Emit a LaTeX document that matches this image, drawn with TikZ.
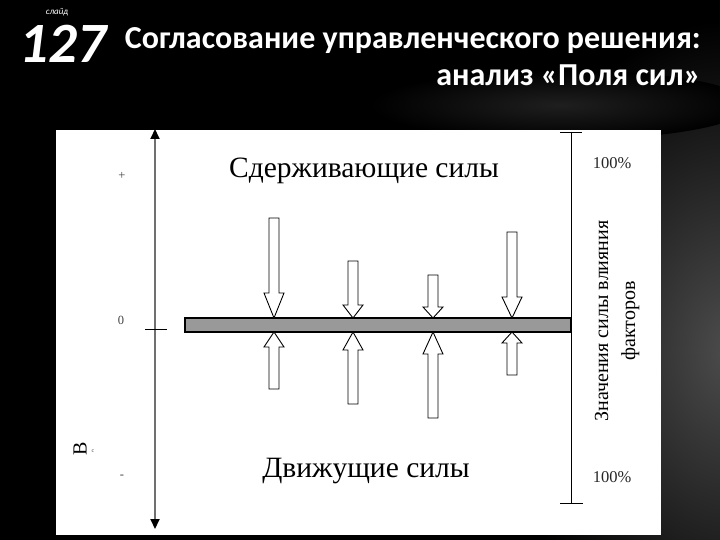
\documentclass[tikz,border=0pt]{standalone}
\usepackage{fontspec}
\setmainfont{Liberation Serif}
\newfontfamily\calfont{Carlito}
\usetikzlibrary{arrows.meta}
\definecolor{bargray}{HTML}{999999}
\definecolor{axisgray}{HTML}{707070}
\tikzset{
  blk/.style={draw=black, fill=white, line width=0.9pt, line join=miter},
  axisline/.style={draw=axisgray, line width=2pt},
  thinblack/.style={draw=black, line width=0.9pt},
  bigtxt/.style={font=\fontsize{29.5}{30}\selectfont, text=black},
  smalltxt/.style={font=\fontsize{12.5}{12.5}\selectfont, text=black!75},
  pcttxt/.style={font=\fontsize{16.5}{16.5}\selectfont, text=black!85},
  titletxt/.style={font=\calfont\bfseries\fontsize{32}{32}\selectfont, text=white, inner sep=0pt}
}
\newcommand\blockarr[4]{\draw[blk] (#1-5,#2) -- (#1+5,#2) -- (#1+5,#3) -- (#1+10,#3) -- (#1,#4) -- (#1-10,#3) -- (#1-5,#3) -- cycle;}
\begin{document}
\begin{tikzpicture}[x=1pt,y=-1pt]
\useasboundingbox (0,0) rectangle (720,540);
% background
\fill[black] (0,0) rectangle (720,540);
\shade[inner color=black!70, outer color=black] (730,350) ellipse [x radius=230, y radius=330];
\shade[inner color=black!88, outer color=black] (560,105) ellipse [x radius=190, y radius=35];
% white panel
\fill[white] (56,130) rectangle (661,535);
% header
\node[font=\calfont\itshape\fontsize{9}{9}\selectfont, text=white, inner sep=0pt] (slide) at (57,12) {слайд};
\node[font=\calfont\bfseries\itshape\fontsize{57}{57}\selectfont, text=white, inner sep=0pt, anchor=base] (num) at (63,63) {127};
\node[titletxt, anchor=base east] (t1) at (701,49) {Согласование управленческого решения:};
\node[titletxt, anchor=base east] (t2) at (701,86) {анализ «Поля сил»};
% left axis
\coordinate (zero) at (155,329);
\coordinate (atop) at (155,129);
\coordinate (abot) at (155,529);
\draw[axisline, -{Triangle[width=9pt,length=10pt,color=black]}] (zero) -- (atop);
\draw[axisline, -{Triangle[width=9pt,length=10pt,color=black]}] (zero) -- (abot);
\draw[thinblack] (145,329) -- (167,329);
\node[smalltxt] (plus) at (122,176) {+};
\node[smalltxt] (nul) at (121,320) {0};
\node[smalltxt] (minus) at (122,477) {-};
\node[font=\fontsize{20}{20}\selectfont, rotate=90, inner sep=0pt] (vb) at (80,449) {В};
\node[font=\fontsize{6}{6}\selectfont, text=black!70, inner sep=0pt] (vc) at (93,451) {с};
% right scale
\draw[thinblack] (571,132) -- (571,503);
\draw[thinblack] (560,132) -- (582,132);
\draw[thinblack] (560,503) -- (583,503);
\node[pcttxt] (p1) at (612,163) {100\%};
\node[pcttxt] (p2) at (612,477) {100\%};
\node[font=\fontsize{20}{27}\selectfont, rotate=90, align=center] (vlab) at (617,321) {Значения силы влияния\\факторов};
% titles
\node[bigtxt] (rest) at (364,171) {Сдерживающие силы};
\node[bigtxt] (drive) at (366,471) {Движущие силы};
% bar
\draw[draw=black, fill=bargray, line width=1.2pt] (185,318) rectangle (571,332);
% arrows from above
\blockarr{274}{218}{293}{318}
\blockarr{353}{261}{305}{318}
\blockarr{433}{275}{307}{318}
\blockarr{512}{232}{297}{318}
% arrows from below
\blockarr{274}{389}{347}{332}
\blockarr{353}{404}{350}{332}
\blockarr{433}{418}{354}{332}
\blockarr{512}{375}{343}{332}
\end{tikzpicture}
\end{document}
